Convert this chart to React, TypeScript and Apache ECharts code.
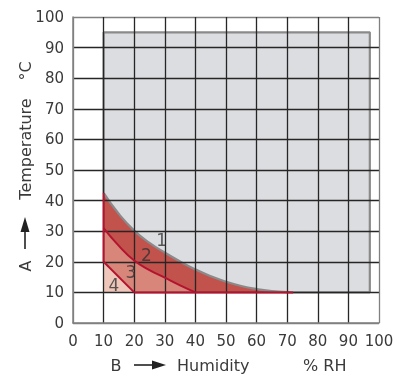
import React, { useEffect, useRef } from "react";
import * as echarts from "echarts";

const humidityTicks = [0, 10, 20, 30, 40, 50, 60, 70, 80, 90, 100];
const temperatureTicks = [0, 10, 20, 30, 40, 50, 60, 70, 80, 90, 100];

// Envelope of the operating range (gray region): x from 10 to 97 %RH, y from 10 to 95 °C
const envelopeTop = [[10, 95], [97, 95]];
const envelopeOutline = [[10, 42.5], [10, 95], [97, 95], [97, 10], [72, 10]];
const baseTemp = 10;

// Curve 1 (outer limit of red zone)
const curve1 = [
  [10, 42.5], [15, 35.6], [20, 30.2], [25, 26.2], [30, 23], [35, 20.1], [40, 17.5],
  [45, 15.3], [50, 13.5], [55, 12.1], [60, 11.1], [65, 10.4], [72, 10],
];
// Curve 2
const curve2 = [
  [10, 31], [15, 25.2], [20, 20.4], [25, 17.3], [30, 14.8], [35, 12.3], [40, 10],
];
// Line 3
const line3 = [[10, 20], [20, 10]];

const zoneLabels = [
  { name: "1", value: [29, 27.2] },
  { name: "2", value: [24, 22.3] },
  { name: "3", value: [18.9, 16.6] },
  { name: "4", value: [13.4, 12.3] },
];

const FONT = "'DejaVu Sans', 'Liberation Sans', sans-serif";
const TXT = "#3a3a3a";
const RED = "#b3132f";

const gridColors = humidityTicks.map((_, i) =>
  i === 0 || i === humidityTicks.length - 1 ? "#808080" : "#262626"
);

export default function App() {
  const ref = useRef<HTMLDivElement>(null);
  useEffect(() => {
    if (!ref.current) return;
    const chart = echarts.init(ref.current, null, { renderer: "svg" });
    const axisCommon = {
      type: "value",
      min: 0,
      max: 100,
      interval: 10,
      z: 3,
      axisLine: { show: true, lineStyle: { color: "#808080", width: 1.5 } },
      axisTick: { show: false },
      splitLine: { show: true, lineStyle: { color: gridColors, width: 1.3 } },
    };
    const leftEdge = [line3[0], curve1[0]];
    const bottomEdge = [line3[line3.length - 1], curve1[curve1.length - 1]];
    const smoothLine = { smooth: 0.5 };
    chart.setOption({
      animation: false,
      grid: { left: 73, right: 25, top: 17, bottom: 53 },
      xAxis: {
        ...axisCommon,
        axisLabel: { margin: 10, color: TXT, fontSize: 15, fontFamily: FONT },
      },
      yAxis: {
        ...axisCommon,
        axisLabel: { margin: 9, color: TXT, fontSize: 15, fontFamily: FONT },
      },
      series: [
        {
          type: "line", data: envelopeTop, symbol: "none", z: 1,
          lineStyle: { width: 0 },
          areaStyle: { color: "#dcdde0", opacity: 1, origin: baseTemp },
        },
        {
          type: "line", data: envelopeOutline, symbol: "none", z: 1,
          lineStyle: { color: "#8a8a8a", width: 2.2 },
        },
        {
          type: "line", data: curve1, symbol: "none", z: 1, ...smoothLine,
          lineStyle: { color: "#8a8a8a", width: 2.2 },
          areaStyle: { color: "#c2524c", opacity: 1, origin: baseTemp },
        },
        {
          type: "line", data: curve2, symbol: "none", z: 1, ...smoothLine,
          lineStyle: { width: 0 },
          areaStyle: { color: "#d8857a", opacity: 1, origin: baseTemp },
        },
        {
          type: "line", data: line3, symbol: "none", z: 1,
          lineStyle: { width: 0 },
          areaStyle: { color: "#efc7ba", opacity: 1, origin: baseTemp },
        },
        {
          type: "line", data: curve2, symbol: "none", z: 5, ...smoothLine,
          lineStyle: { color: RED, width: 2 },
        },
        {
          type: "line", data: line3, symbol: "none", z: 5,
          lineStyle: { color: RED, width: 2 },
        },
        {
          type: "line", data: leftEdge, symbol: "none", z: 5,
          lineStyle: { color: RED, width: 2 },
        },
        {
          type: "line", data: bottomEdge, symbol: "none", z: 5,
          lineStyle: { color: RED, width: 2 },
        },
        {
          type: "scatter", data: zoneLabels, symbolSize: 1, z: 6,
          itemStyle: { color: "rgba(0,0,0,0)" },
          label: {
            show: true, position: "inside", formatter: "{b}",
            color: "#333", fontSize: 17, fontFamily: FONT,
          },
        },
      ],
      graphic: [
        {
          type: "text", x: 25, y: 149, rotation: Math.PI / 2,
          style: {
            text: "Temperature", fill: TXT, font: `16px ${FONT}`,
            textAlign: "center", textVerticalAlign: "middle",
            align: "center", verticalAlign: "middle",
          },
        },
        {
          type: "text", x: 25, y: 71, rotation: Math.PI / 2,
          style: {
            text: "°C", fill: TXT, font: `16px ${FONT}`,
            textAlign: "center", textVerticalAlign: "middle",
            align: "center", verticalAlign: "middle",
          },
        },
        {
          type: "text", x: 25, y: 266, rotation: Math.PI / 2,
          style: {
            text: "A", fill: TXT, font: `16px ${FONT}`,
            textAlign: "center", textVerticalAlign: "middle",
            align: "center", verticalAlign: "middle",
          },
        },
        {
          type: "line", shape: { x1: 25, y1: 249, x2: 25, y2: 228 },
          style: { stroke: "#222", lineWidth: 1.6 },
        },
        {
          type: "polygon", shape: { points: [[25, 217], [20.5, 232], [29.5, 232]] },
          style: { fill: "#222" },
        },
        {
          type: "text", x: 116, y: 365,
          style: {
            text: "B", fill: TXT, font: `16px ${FONT}`,
            textAlign: "center", textVerticalAlign: "middle",
            align: "center", verticalAlign: "middle",
          },
        },
        {
          type: "line", shape: { x1: 134, y1: 365, x2: 156, y2: 365 },
          style: { stroke: "#222", lineWidth: 1.6 },
        },
        {
          type: "polygon", shape: { points: [[166, 365], [152, 360.5], [152, 369.5]] },
          style: { fill: "#222" },
        },
        {
          type: "text", x: 177, y: 365,
          style: {
            text: "Humidity", fill: TXT, font: `16px ${FONT}`,
            textAlign: "left", textVerticalAlign: "middle",
            align: "left", verticalAlign: "middle",
          },
        },
        {
          type: "text", x: 303, y: 365,
          style: {
            text: "% RH", fill: TXT, font: `16px ${FONT}`,
            textAlign: "left", textVerticalAlign: "middle",
            align: "left", verticalAlign: "middle",
          },
        },
      ],
    });
    return () => chart.dispose();
  }, []);
  return (
    <div
      ref={ref}
      style={{ position: "fixed", left: 0, top: 0, width: 404, height: 376 }}
    />
  );
}
